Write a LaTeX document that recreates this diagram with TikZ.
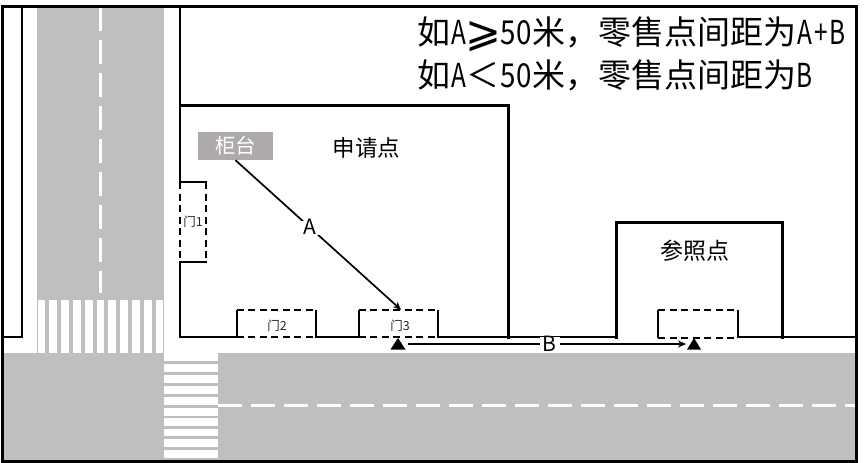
\documentclass[tikz,border=0pt]{standalone}
\usepackage{fontspec}
\setmainfont{Noto Sans CJK SC}
\newfontfamily\hwfont[FakeStretch=0.74]{Noto Sans CJK SC}
\newfontfamily\hdfont[FakeStretch=0.84]{Noto Sans CJK SC}
\newfontfamily\symfont{DejaVu Sans}
\newcommand{\hw}[1]{\makebox[16.5pt]{\hwfont #1}}
\newcommand{\hd}[1]{\makebox[16.5pt]{\hdfont #1}}
\newcommand{\fw}[1]{\makebox[33pt]{#1}}
\definecolor{roadgray}{HTML}{BFBFBF}
\definecolor{counter}{HTML}{AEAAAA}
\tikzset{
  wall/.style={line width=3pt,line cap=rect},
  thinwall/.style={line width=2.2pt,line cap=rect},
  doorsolid/.style={line width=2pt},
  doordash/.style={line width=2pt,dash pattern=on 7pt off 4.5pt},
  laneline/.style={white,line width=3pt,dash pattern=on 24pt off 9pt},
  lbl/.style={inner sep=0pt,font=\fontsize{23pt}{23pt}\selectfont},
  doorlbl/.style={inner sep=0pt,font=\fontsize{12.5pt}{12.5pt}\selectfont,text=black!85},
  doorbox/.style={inner sep=0pt,minimum width=79pt,minimum height=27pt},
  measure/.style={line width=1.7pt,-{Stealth[length=8pt,width=7pt]}},
  measurelbl/.style={fill=white,inner xsep=3pt,inner ysep=0pt,text height=14pt,text depth=0pt,font=\fontsize{21pt}{21pt}\selectfont},
  headline/.style={inner sep=0pt,anchor=west,font=\fontsize{33pt}{33pt}\selectfont}
}
\usetikzlibrary{arrows.meta}
\begin{document}
\begin{tikzpicture}[x=1pt,y=-1pt]
\useasboundingbox (0,0) rectangle (865,463);
% roads
\fill[roadgray] (37,7) rectangle (164,353);
\fill[roadgray] (3,353) rectangle (164,459.5);
\fill[roadgray] (164,361) rectangle (218,459.5);
\fill[roadgray] (218,353) rectangle (855,459.5);
% crossing N
\foreach \x in {37.5,49.3,61.1,72.9,84.7,96.5,108.3,120.1,131.9,143.7,155.5}
  \fill[white] (\x,299.5) rectangle ++(7.8,53.5);
% crossing E
\foreach \y in {364,375,386,396.8,407.8,418,428.5,439.3,450.3}
  \fill[white] (164,\y) rectangle ++(54,7.9);
% lane marks
\draw[laneline] (100,7) -- (100,293);
\draw[laneline] (218,405) -- (855,405);
% walls
\draw[thinwall] (2,337) -- (22,337) -- (22,6);
\draw[thinwall] (180,6) -- (180,182) -- (206,182);
\draw[thinwall] (206,262) -- (180,262) -- (180,337) -- (237,337);
\draw[wall] (180,105) -- (508,105) -- (508,337);
\draw[thinwall] (316,337) -- (359,337);
\draw[thinwall] (438,337) -- (616,337);
\draw[wall] (616,337) -- (616,222) -- (782,222) -- (782,337);
\draw[thinwall] (738,337) -- (856,337);
% doors
\draw[doordash] (180,182) -- (180,262);
\draw[doordash] (206,182) -- (206,262);
\node[doorlbl] (d1) at (193,222) {门1};
\node[doorbox] (door2) at (276.5,323.5) {};
\node[doorbox] (door3) at (398.5,323.5) {};
\node[doorbox] (door4) at (698,324) {};
\foreach \d in {door2,door3,door4}{
  \draw[doorsolid] (\d.south west) -- (\d.north west);
  \draw[doorsolid] (\d.south east) -- (\d.north east);
  \draw[doordash] (\d.north west) -- (\d.north east);
  \draw[doordash] (\d.south west) -- (\d.south east);
}
\node[doorlbl] (d2) at (277,326) {门2};
\node[doorlbl] (d3) at (400,326) {门3};
% labels
\node[fill=counter,text=white,inner sep=0pt,minimum width=75pt,minimum height=28pt,font=\fontsize{20.5pt}{20.5pt}\selectfont] (counter) at (235.5,146) {柜台};
\node[lbl,font=\fontsize{22.5pt}{22.5pt}\selectfont] (apply) at (366.5,148) {申请点};
\node[lbl] (ref) at (694.5,251) {参照点};
% markers
\coordinate (t1) at (398,344);
\coordinate (t2) at (694,344);
\fill (390.5,349.5) -- (398,338) -- (405.5,349.5) -- cycle;
\fill (687,349.5) -- (694,338) -- (701,349.5) -- cycle;
% measures
\draw[measure] (counter.south) -- node[pos=0.45,measurelbl] (la) {A} ([xshift=2.5pt]door3.north);
\draw[measure] ([xshift=10pt]t1) -- node[pos=0.51,measurelbl] (lb) {B} ([xshift=-8pt]t2);
% heading
\node[headline] (h1) at (417,34) {如\hw{A}\fw{\raisebox{-2pt}{\symfont\fontsize{43pt}{43pt}\selectfont ⩾}}\hd{5}\hd{0}米，零售点间距为\hw{A}\hw{+}\hw{B}};
\node[headline] (h2) at (417,75) {如\hw{A}\fw{＜}\hd{5}\hd{0}米，零售点间距为\hw{B}};
% frame
\draw[line width=3pt] (2,6) rectangle (856,461);
\end{tikzpicture}
\end{document}
